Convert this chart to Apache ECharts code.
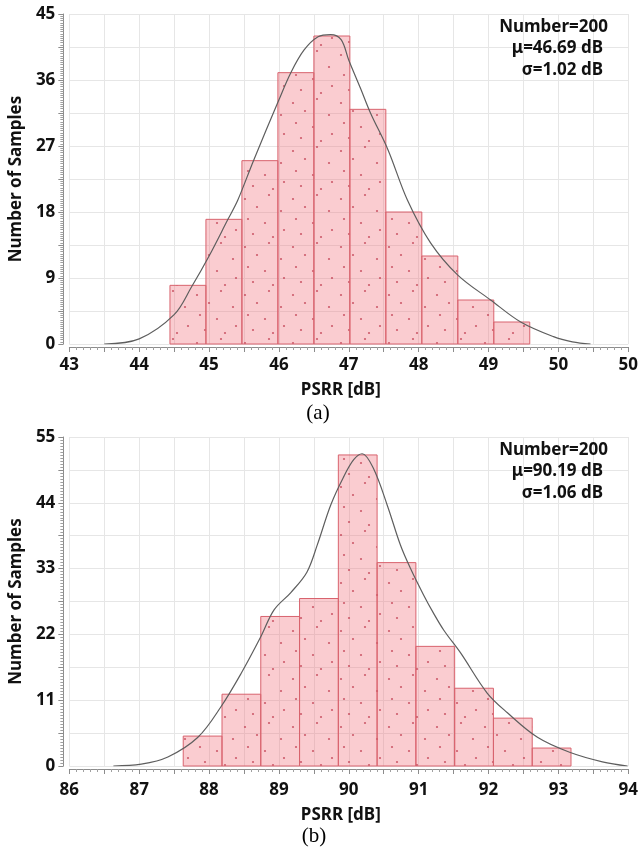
<!DOCTYPE html>
<html>
<head>
<meta charset="utf-8">
<script src="https://cdn.jsdelivr.net/npm/echarts@6/dist/echarts.min.js"></script>
<style>
html,body{margin:0;padding:0;background:#fff;}
#c{width:641px;height:852px;}
</style>
</head>
<body>
<div id="c"></div>
<script>
// ---------- data (a) ----------
const binEdgesA = [44.44, 44.955, 45.47, 45.985, 46.50, 47.015, 47.53, 48.045, 48.56, 49.075, 49.59];
const countsA = [8, 17, 25, 37, 42, 32, 18, 12, 6, 3];
const curveXA = [43.5, 44.0, 44.5, 44.75, 45.0, 45.27, 45.41, 45.64, 46.0, 46.17, 46.36, 46.56, 46.74, 46.89, 47.0, 47.17, 47.31, 47.56, 47.84, 48.17, 48.56, 49.03, 49.46, 49.93, 50.2, 50.46];
const curveYA = [0, 0.7, 4, 7.8, 12.0, 17, 19.6, 25.1, 33.3, 37, 40.1, 41.9, 42.2, 41.5, 38.7, 34.8, 31.5, 26.5, 19.6, 13.8, 9.4, 6, 3, 1.0, 0.3, 0];
const xTickLabelsA = ['43', '44', '45', '46', '47', '48', '49', '50', '50'];
const yTickLabelsA = [0, 9, 18, 27, 36, 45];
const statsA = ['Number=200', 'μ=46.69 dB', 'σ=1.02 dB'];

// ---------- data (b) ----------
const binEdgesB = [87.63, 88.185, 88.74, 89.295, 89.85, 90.405, 90.96, 91.515, 92.07, 92.625, 93.18];
const countsB = [5, 12, 25, 28, 52, 34, 20, 13, 8, 3];
const curveXB = [86.63, 87.03, 87.41, 87.84, 88.17, 88.46, 88.74, 88.93, 89.17, 89.4, 89.55, 89.74, 89.92, 90.07, 90.19, 90.35, 90.55, 90.74, 90.88, 91.07, 91.21, 91.36, 91.6, 91.98, 92.27, 92.7, 93.16, 93.63, 93.99];
const curveYB = [0, 0.3, 1.5, 4.8, 9.9, 15.5, 21.6, 26.1, 29, 32.4, 37, 43.6, 48.2, 51.2, 52.2, 49.8, 43.6, 36.9, 33.1, 28.6, 25.6, 22.7, 18.9, 12.2, 8.9, 4.8, 2.3, 0.7, 0];
const xTickLabelsB = ['86', '87', '88', '89', '90', '91', '92', '93', '94'];
const yTickLabelsB = [0, 11, 22, 33, 44, 55];
const statsB = ['Number=200', 'μ=90.19 dB', 'σ=1.06 dB'];

// ---------- texture for bars (dotted pink fill) ----------
function makePattern() {
  const cv = document.createElement('canvas');
  cv.width = 48; cv.height = 48;
  const g = cv.getContext('2d');
  g.fillStyle = 'rgba(240,110,120,0.35)';
  g.fillRect(0, 0, 48, 48);
  g.fillStyle = 'rgba(185,45,65,0.7)';
  const dots = [[5,7],[29,3],[17,15],[41,19],[8,27],[25,31],[44,38],[13,42],[33,45]];
  dots.forEach(d => { g.beginPath(); g.arc(d[0], d[1], 1.1, 0, Math.PI * 2); g.fill(); });
  return cv;
}
const pat = makePattern();

function binData(edges, counts) {
  return counts.map((c, i) => [edges[i], edges[i + 1], c]);
}
function renderBin(params, api) {
  const p0 = api.coord([api.value(0), api.value(2)]);
  const p1 = api.coord([api.value(1), 0]);
  return {
    type: 'rect',
    shape: { x: p0[0], y: p0[1], width: p1[0] - p0[0], height: p1[1] - p0[1] },
    style: { fill: { image: pat, repeat: 'repeat' }, stroke: '#d8636e', lineWidth: 1 }
  };
}

const FONT = 'Noto Sans';
const axisGray = '#8c8c8c';
const labelStyle = { color: '#111', fontWeight: 'bold', fontSize: 17, fontFamily: FONT };

function xAxisCfg(gi, min, max, labels, margin, nameGap) {
  return {
    type: 'value', gridIndex: gi, min: min, max: max, interval: 0.5, offset: 3,
    axisLine: { show: true, onZero: false, lineStyle: { color: axisGray, width: 1 } },
    axisTick: { show: true, length: 5, lineStyle: { color: axisGray } },
    minorTick: { show: true, splitNumber: 5, length: 3, lineStyle: { color: '#a0a0a0' } },
    splitLine: { show: true, lineStyle: { color: '#e6e6e6', width: 1 } },
    axisLabel: Object.assign({
      interval: 0, margin: margin, showMinLabel: true, showMaxLabel: true,
      formatter: function (v) {
        if (Math.abs(v - Math.round(v)) > 1e-6) return '';
        return labels[Math.round(v) - min] || '';
      }
    }, labelStyle),
    name: 'PSRR [dB]', nameLocation: 'middle', nameGap: nameGap,
    nameTextStyle: Object.assign({ padding: [0, 16, 0, 0] }, labelStyle)
  };
}
function yAxisCfg(gi, max, interval, labels, minorSplit) {
  return {
    type: 'value', gridIndex: gi, min: 0, max: max, interval: interval, offset: 6,
    axisLine: { show: true, lineStyle: { color: axisGray, width: 1 } },
    axisTick: { show: true, length: 5, lineStyle: { color: axisGray } },
    minorTick: { show: true, splitNumber: minorSplit, length: 3, lineStyle: { color: '#a0a0a0' } },
    splitLine: { show: true, lineStyle: { color: '#e6e6e6', width: 1 } },
    axisLabel: Object.assign({
      margin: 8, showMinLabel: true, showMaxLabel: true,
      formatter: function (v) {
        const hit = labels.find(l => Math.abs(l - v) < 1e-6);
        return hit === undefined ? '' : String(hit);
      }
    }, labelStyle),
    name: 'Number of Samples', nameLocation: 'middle', nameGap: 34, nameRotate: 90,
    nameTextStyle: labelStyle
  };
}

function statsText(lines, y0) {
  const xs = [608, 603, 603];
  return lines.map((t, i) => ({
    type: 'text', x: xs[i], y: y0 + i * 21.5, z: 100,
    style: { text: t, textAlign: 'right', textVerticalAlign: 'middle', fill: '#111', font: 'bold 17px "Noto Sans"' }
  }));
}

const chart = echarts.init(document.getElementById('c'), null, { renderer: 'canvas' });
chart.setOption({
  animation: false,
  backgroundColor: '#ffffff',
  grid: [
    { left: 68, right: 12, top: 14, height: 330 },
    { left: 68, right: 12, top: 437, height: 329 }
  ],
  xAxis: [
    xAxisCfg(0, 43, 51, xTickLabelsA, 10, 35),
    xAxisCfg(1, 86, 94, xTickLabelsB, 13, 38)
  ],
  yAxis: [
    yAxisCfg(0, 45, 4.5, yTickLabelsA, 15),
    yAxisCfg(1, 55, 5.5, yTickLabelsB, 11)
  ],
  series: [
    { type: 'custom', xAxisIndex: 0, yAxisIndex: 0, renderItem: renderBin, encode: { x: [0, 1], y: 2 }, data: binData(binEdgesA, countsA), z: 2 },
    { type: 'line', xAxisIndex: 0, yAxisIndex: 0, data: curveXA.map((x, i) => [x, curveYA[i]]), smooth: 0.35, symbol: 'none', lineStyle: { color: '#5e5e5e', width: 1.2 }, z: 3 },
    { type: 'custom', xAxisIndex: 1, yAxisIndex: 1, renderItem: renderBin, encode: { x: [0, 1], y: 2 }, data: binData(binEdgesB, countsB), z: 2 },
    { type: 'line', xAxisIndex: 1, yAxisIndex: 1, data: curveXB.map((x, i) => [x, curveYB[i]]), smooth: 0.35, symbol: 'none', lineStyle: { color: '#5e5e5e', width: 1.2 }, z: 3 }
  ],
  graphic: [].concat(
    statsText(statsA, 27),
    statsText(statsB, 450),
    [
      { type: 'text', x: 318, y: 413, style: { text: '(a)', textAlign: 'center', textVerticalAlign: 'middle', fill: '#000', font: '21px "Liberation Serif"' } },
      { type: 'text', x: 314, y: 836, style: { text: '(b)', textAlign: 'center', textVerticalAlign: 'middle', fill: '#000', font: '21px "Liberation Serif"' } }
    ]
  )
});
</script>
</body>
</html>
